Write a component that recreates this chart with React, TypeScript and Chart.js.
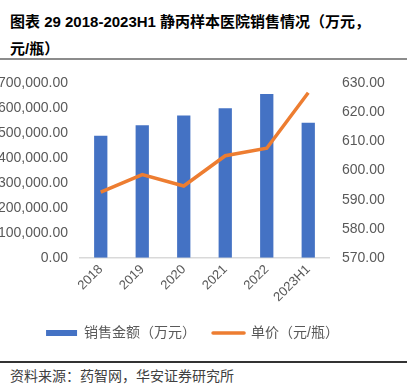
import React, { useEffect, useRef } from 'react';
import { Chart, registerables } from 'chart.js';

Chart.register(...registerables);

const categories = ['2018', '2019', '2020', '2021', '2022', '2023H1'];
const salesValues = [490000, 532000, 571000, 600000, 657000, 542000];
const priceValues = [592.6, 598.6, 594.7, 605.1, 607.7, 626.8];
const salesLabel = '销售金额（万元）';
const priceLabel = '单价（元/瓶）';
const leftAxisRange = [0, 700000, 100000];
const rightAxisRange = [570, 630, 10];
const titleLine1 = '图表 29 2018-2023H1 静丙样本医院销售情况（万元，';
const titleLine2 = '元/瓶）';
const sourceText = '资料来源：药智网，华安证券研究所';

const FONT = "'Liberation Sans', Arial, 'Noto Sans CJK SC', sans-serif";

export default function App() {
  const ref = useRef<HTMLCanvasElement>(null);

  useEffect(() => {
    Chart.defaults.font.family = FONT;
    const chart = new Chart(ref.current as HTMLCanvasElement, {
      type: 'bar',
      data: {
        labels: categories,
        datasets: [
          {
            type: 'bar',
            label: salesLabel,
            data: salesValues,
            backgroundColor: '#4472C4',
            yAxisID: 'y',
            barPercentage: 0.32,
            categoryPercentage: 1,
            order: 1,
          },
          {
            type: 'line',
            label: priceLabel,
            data: priceValues,
            borderColor: '#ED7D31',
            backgroundColor: '#ED7D31',
            borderWidth: 3.5,
            pointRadius: 0,
            tension: 0,
            yAxisID: 'y1',
            order: 0,
          },
        ],
      } as any,
      options: {
        animation: false,
        responsive: false,
        maintainAspectRatio: false,
        layout: { padding: { top: 13, right: 22, bottom: 0, left: 0 } },
        plugins: {
          tooltip: { enabled: false },
          legend: {
            position: 'bottom',
            labels: {
              usePointStyle: true,
              pointStyleWidth: 31,
              boxHeight: 6,
              padding: 17,
              color: '#595959',
              font: { size: 14 },
              generateLabels: () => [
                {
                  text: salesLabel,
                  fillStyle: '#4472C4',
                  strokeStyle: '#4472C4',
                  lineWidth: 0,
                  pointStyle: 'rect',
                  hidden: false,
                  datasetIndex: 0,
                  fontColor: '#595959',
                },
                {
                  text: priceLabel,
                  fillStyle: '#ED7D31',
                  strokeStyle: '#ED7D31',
                  lineWidth: 3.5,
                  lineCap: 'round',
                  pointStyle: 'line',
                  hidden: false,
                  datasetIndex: 1,
                  fontColor: '#595959',
                },
              ] as any,
            },
          },
        },
        scales: {
          x: {
            grid: { display: false, drawTicks: false },
            border: { display: true, color: '#d9d9d9', width: 1.5 },
            ticks: { color: '#595959', font: { size: 13 }, maxRotation: 45, minRotation: 45, padding: 4 },
          },
          y: {
            position: 'left',
            min: leftAxisRange[0],
            max: leftAxisRange[1],
            grid: { display: false, drawTicks: false },
            border: { display: false },
            ticks: {
              stepSize: leftAxisRange[2],
              color: '#595959',
              font: { size: 14 },
              padding: 12,
              callback: (v: any) =>
                Number(v).toLocaleString('en-US', { minimumFractionDigits: 2, maximumFractionDigits: 2 }),
            },
            afterFit: (s: any) => {
              s.width = 80;
            },
          },
          y1: {
            position: 'right',
            min: rightAxisRange[0],
            max: rightAxisRange[1],
            grid: { display: false, drawTicks: false },
            border: { display: false },
            ticks: {
              stepSize: rightAxisRange[2],
              color: '#595959',
              font: { size: 14 },
              padding: 13,
              callback: (v: any) => Number(v).toFixed(2),
            },
            afterFit: (s: any) => {
              s.width = 56;
            },
          },
        },
      } as any,
    });
    return () => chart.destroy();
  }, []);

  return (
    <div
      style={{
        position: 'absolute',
        left: 0,
        top: 0,
        width: 407,
        height: 388,
        background: '#fff',
        overflow: 'hidden',
        fontFamily: FONT,
      }}
    >
      <div
        style={{
          position: 'absolute',
          left: 10,
          top: 8,
          fontWeight: 'bold',
          fontSize: 15,
          lineHeight: '27px',
          color: '#000',
          whiteSpace: 'nowrap',
        }}
      >
        {titleLine1}
        <br />
        {titleLine2}
      </div>
      <div style={{ position: 'absolute', left: 0, top: 58, width: 407, height: 1.5, background: '#8c8c8c' }} />
      <canvas
        ref={ref}
        width={407}
        height={288}
        style={{ position: 'absolute', left: 0, top: 62, width: 407, height: 288, display: 'block' }}
      />
      <div style={{ position: 'absolute', left: 0, top: 361, width: 407, height: 1.5, background: '#333' }} />
      <div
        style={{
          position: 'absolute',
          left: 10,
          top: 368,
          fontSize: 14,
          lineHeight: '16px',
          color: '#404040',
          whiteSpace: 'nowrap',
        }}
      >
        {sourceText}
      </div>
    </div>
  );
}
